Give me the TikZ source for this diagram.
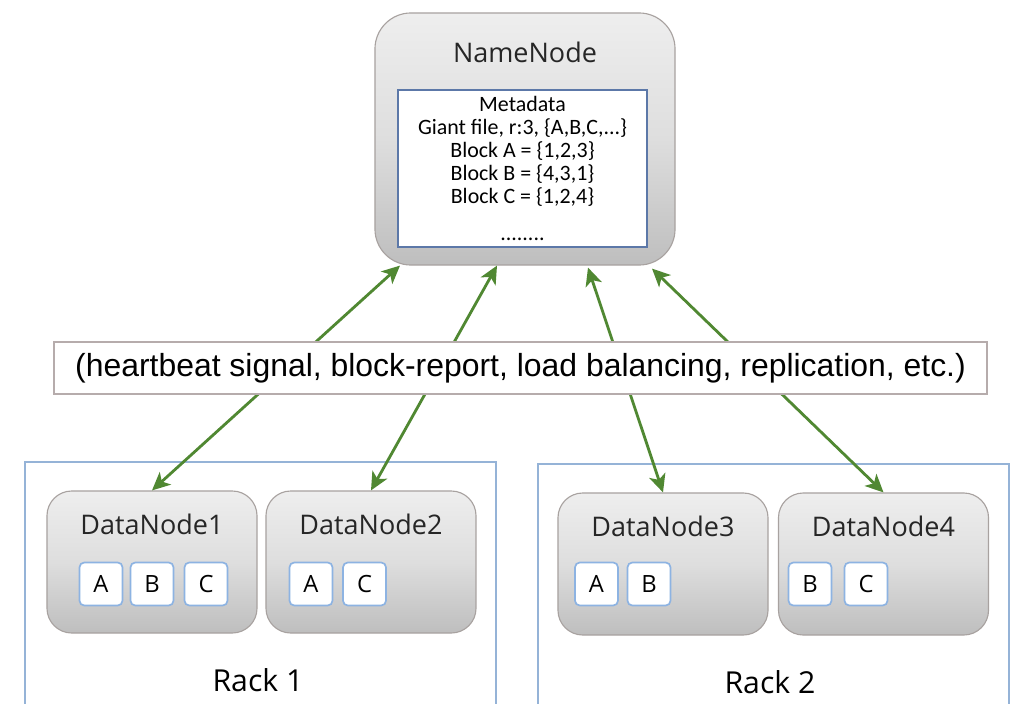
\documentclass[tikz,border=0pt]{standalone}
\usepackage{fontspec}
\setmainfont{Carlito}
\newfontfamily\segoe{Open Sans}
\newfontfamily\arial{Liberation Sans}
\usetikzlibrary{arrows.meta,calc}
\definecolor{arrowgreen}{RGB}{80,136,50}
\definecolor{nodeline}{RGB}{168,162,160}
\definecolor{metablue}{RGB}{92,120,168}
\definecolor{blkblue}{RGB}{141,179,226}
\definecolor{rackblue}{RGB}{149,179,215}
\definecolor{labelline}{RGB}{182,172,172}
\definecolor{shadetop}{RGB}{238,238,238}
\definecolor{shademid}{RGB}{222,222,222}
\definecolor{shadebot}{RGB}{190,190,190}
\def\px{0.025cm}
\tikzset{
    nnbox/.style={draw=nodeline, line width=0.8pt, rounded corners=0.9cm,
        top color=shadetop, bottom color=shadebot, middle color=shademid,
        minimum width=7.5cm, minimum height=6.3cm},
    nntext/.style={font=\segoe\fontsize{19.2}{23}\selectfont, text=black!85},
    metabox/.style={draw=metablue, line width=1.3pt, fill=white, align=center,
        minimum width=6.225cm, minimum height=3.925cm, inner sep=0pt,
        font=\fontsize{15.6}{16.4}\selectfont},
    dnbox/.style={draw=nodeline, line width=0.8pt, rounded corners=0.62cm,
        top color=shadetop, bottom color=shadebot, middle color=shademid,
        minimum width=5.25cm, minimum height=3.55cm},
    dntext/.style={nntext},
    blkbox/.style={draw=blkblue, line width=1.2pt, fill=white, rounded corners=0.12cm,
        minimum width=1.075cm, minimum height=1.075cm, inner sep=0pt,
        font=\segoe\fontsize{16.9}{20}\selectfont},
    rackbox/.style={draw=rackblue, line width=1.3pt,
        minimum width=11.775cm, minimum height=6.45cm},
    racktext/.style={font=\segoe\fontsize{21.5}{26}\selectfont},
    msgbox/.style={draw=labelline, line width=1pt, fill=white, inner sep=0pt,
        minimum width=23.325cm, minimum height=1.3cm,
        font=\arial\fontsize{22.7}{27}\selectfont},
    hb/.style={draw=arrowgreen, line width=2pt,
        {Stealth[length=4.5mm,width=4.2mm,inset=1.2mm]}-{Stealth[length=4.5mm,width=4.2mm,inset=1.2mm]}}
}
\newcommand{\datanode}[4]{
    \node[dnbox] (#1) at (#2,#3) {};
    \node[dntext] (#1-title) at ($(#1.north)+(0,34)$) {#4};
}
\newcommand{\blk}[4]{
    \node[blkbox] (#1) at (#2,#3) {#4};
}
\begin{document}
\begin{tikzpicture}[x=\px,y=-\px]
    \useasboundingbox (0,0) rectangle (1018,703);
    \node[rackbox] (rack1) at (260.5,591) {};
    \node[rackbox] (rack2) at (773.5,593) {};
    \node[racktext] (rack1-label) at (258,680) {Rack 1};
    \node[racktext] (rack2-label) at (770,682) {Rack 2};
    \datanode{dn1}{152}{562}{DataNode1}
    \datanode{dn2}{371}{562}{DataNode2}
    \datanode{dn3}{663}{564}{DataNode3}
    \datanode{dn4}{883.5}{564}{DataNode4}
    \blk{dn1a}{101}{584}{A}
    \blk{dn1b}{152}{584}{B}
    \blk{dn1c}{206}{584}{C}
    \blk{dn2a}{311}{584}{A}
    \blk{dn2c}{364.5}{584}{C}
    \blk{dn3a}{596.5}{584}{A}
    \blk{dn3b}{649}{584}{B}
    \blk{dn4b}{810}{584}{B}
    \blk{dn4c}{866}{584}{C}
    \node[nnbox] (namenode) at (525,139) {};
    \node[nntext] (nn-title) at ($(namenode.north)+(0,40)$) {NameNode};
    \node[metabox] (meta) at (522.5,168.5) {Metadata\\Giant file, r:3, \{A,B,C,...\}\\
        Block A = \{1,2,3\}\\Block B = \{4,3,1\}\\Block C = \{1,2,4\}\\[10pt]........};
    \coordinate (nn1) at ($(namenode.south)+(-125,0)$);
    \coordinate (nn2) at ($(namenode.south)+(-28,0)$);
    \coordinate (nn3) at ($(namenode.south)+(63,2)$);
    \coordinate (nn4) at ($(namenode.south)+(127,3)$);
    \draw[hb] (dn1.north) -- (nn1);
    \draw[hb] (dn2.north) -- (nn2);
    \draw[hb] (dn3.north) -- (nn3);
    \draw[hb] (dn4.north) -- (nn4);
    \node[msgbox] (msg) at (520.5,368)
        {(heartbeat signal, block-report, load balancing, replication, etc.)};
\end{tikzpicture}
\end{document}
